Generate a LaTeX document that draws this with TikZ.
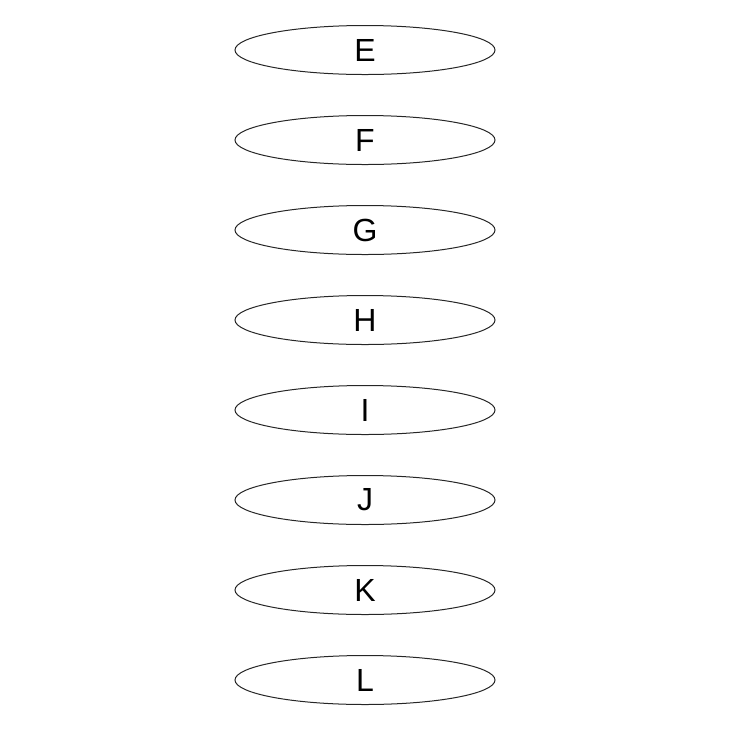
\documentclass[tikz,border=0pt]{standalone}
\usepackage{fontspec}
\setmainfont{Liberation Sans}
\usepackage{tikz}
\usetikzlibrary{shapes.geometric, positioning}

\begin{document}
\begin{tikzpicture}[x=0.5pt, y=-0.5pt, node distance=45pt, semithick,
    letter/.style={ellipse, draw=black!85, line width=0.5pt, minimum width=130pt, minimum height=24.5pt, inner sep=0pt, font=\fontsize{16}{19}\selectfont}]
    \useasboundingbox (0,0) rectangle (730,730);
    \node[letter] (e) at (365,50) {E};
    \node[letter] (f) [below of=e] {F};
    \node[letter] (g) [below of=f] {G};
    \node[letter] (h) [below of=g] {H};
    \node[letter] (i) [below of=h] {I};
    \node[letter] (j) [below of=i] {J};
    \node[letter] (k) [below of=j] {K};
    \node[letter] (l) [below of=k] {L};
\end{tikzpicture}
\end{document}
